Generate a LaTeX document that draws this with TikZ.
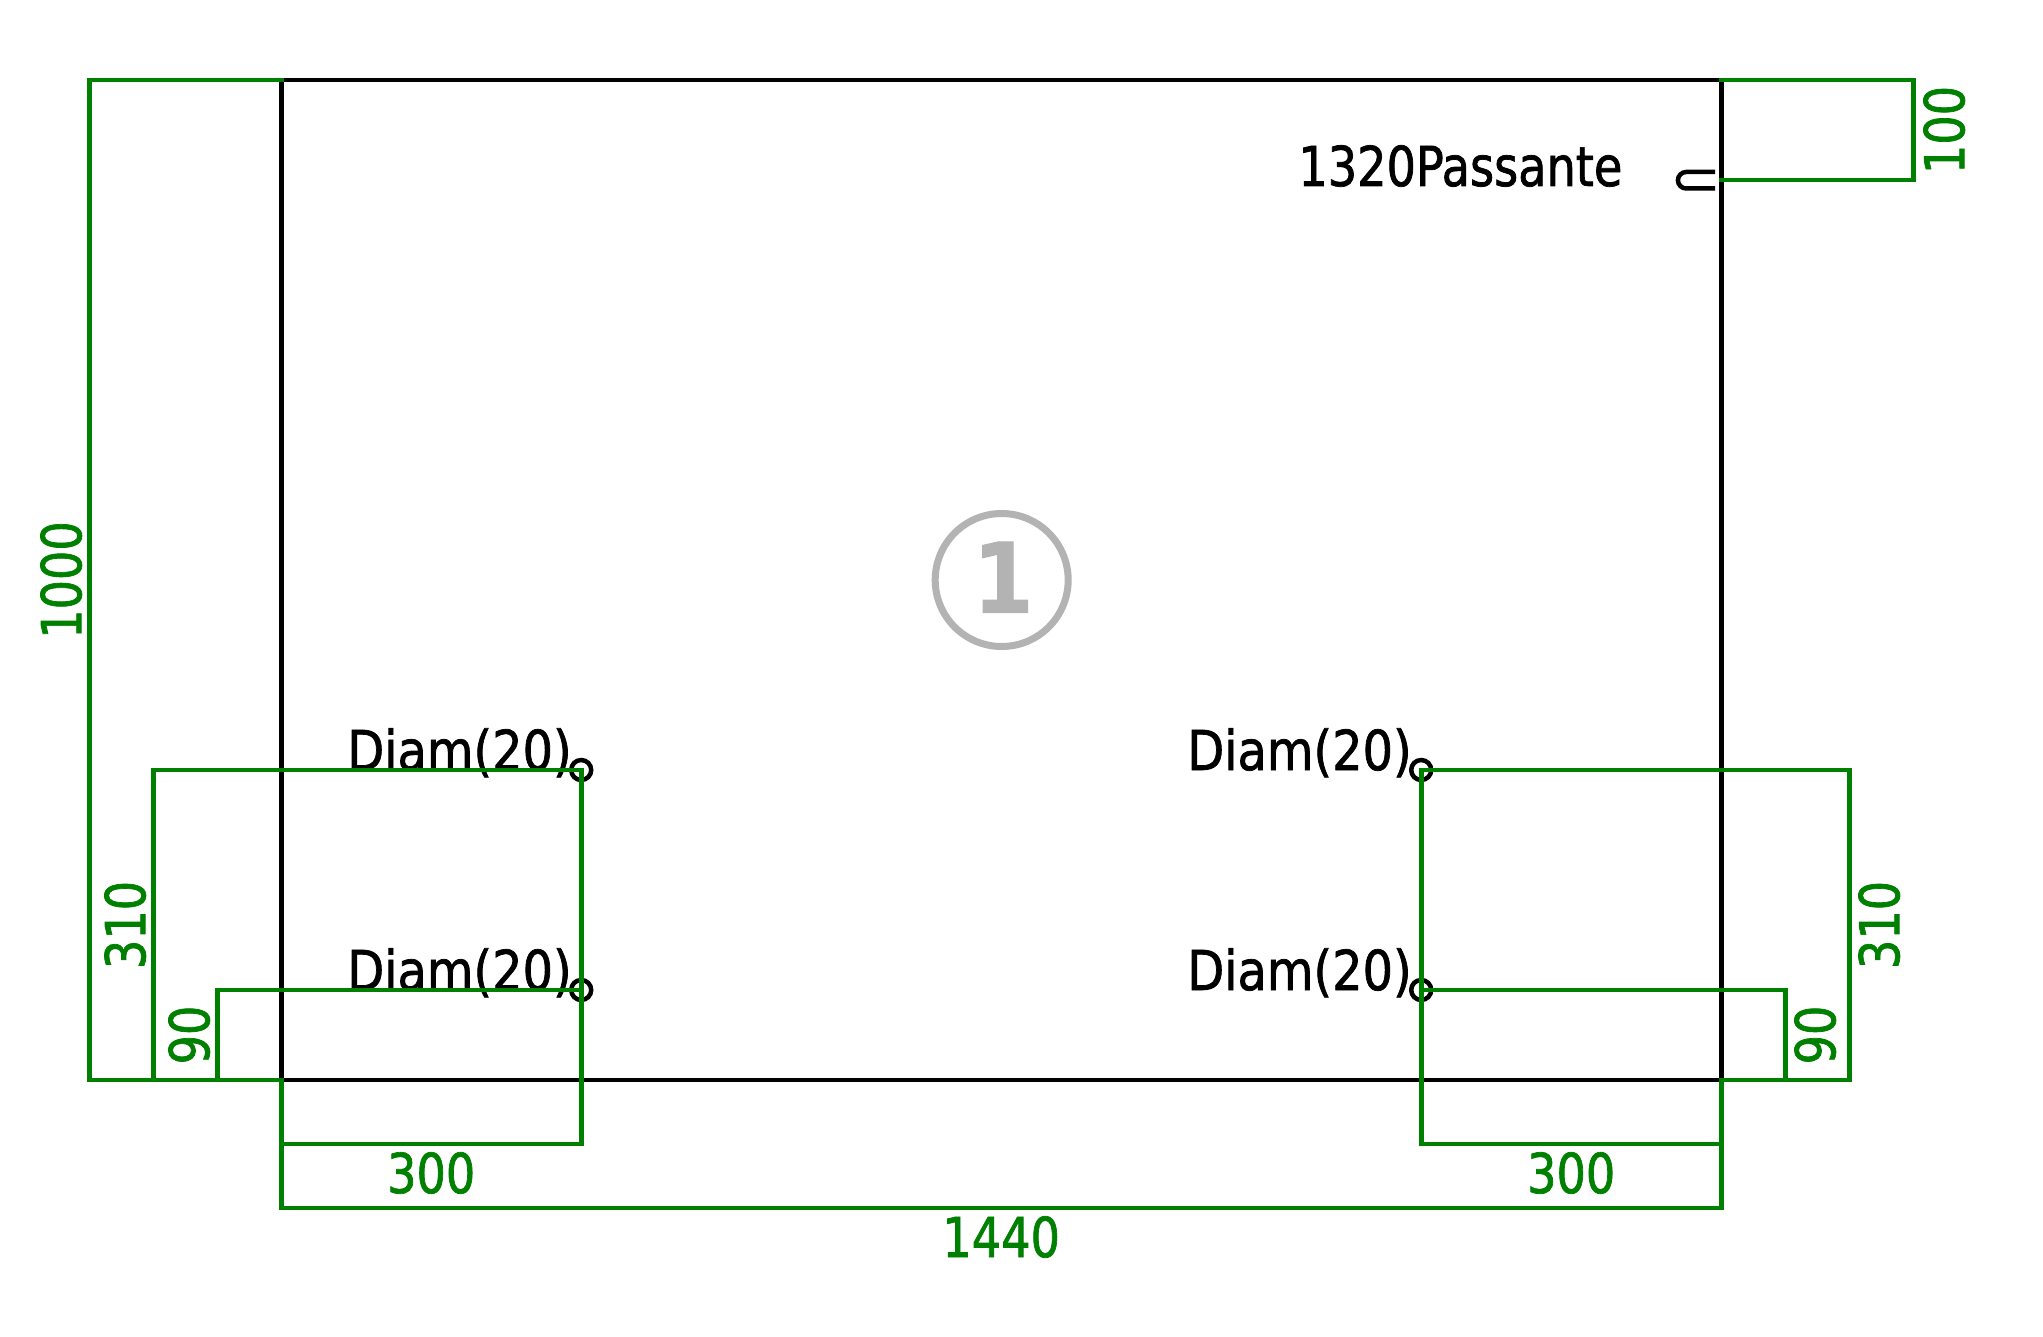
\documentclass[tikz,border=0pt]{standalone}
\usepackage{fontspec}
\newfontfamily\dimfont[FakeStretch=0.84,FakeBold=1.3]{DejaVu Sans}
\newfontfamily\diamfont[FakeStretch=0.87,FakeBold=1.3]{DejaVu Sans}
\newfontfamily\markfont[FakeStretch=0.9,FakeBold=1]{DejaVu Sans Bold}
\definecolor{dimgreen}{HTML}{008000}
\definecolor{markgray}{HTML}{B3B3B3}
\tikzset{
  panel/.style={draw=black,line width=4.6pt,line cap=rect},
  hole/.style={draw=black,line width=4.5pt,circle,minimum size=20pt,inner sep=0pt},
  dimline/.style={draw=dimgreen,line width=4.6pt,line cap=rect},
  dimtext/.style={text=dimgreen,font=\dimfont\fontsize{55}{55}\selectfont,anchor=base,inner sep=0pt},
  labeltext/.style={text=black,font=\dimfont\fontsize{55}{55}\selectfont,anchor=base west,inner sep=0pt},
  diamtext/.style={text=black,font=\diamfont\fontsize{55}{55}\selectfont,anchor=base west,inner sep=0pt},
}
\begin{document}
\begin{tikzpicture}[x=1pt,y=-1pt]
\useasboundingbox (0,0) rectangle (2043,1337);
\fill[white] (0,0) rectangle (2043,1337);
\begin{scope}[xshift=-0.8pt]
% corners
\coordinate (tl) at (282,80);
\coordinate (tr) at (1722,80);
\coordinate (bl) at (282,1080);
\coordinate (br) at (1722,1080);
\draw[panel] (tl) -- (tr) -- (br) -- (bl) -- cycle;
% holes
\node[hole] (h1) at (582,770) {};
\node[hole] (h2) at (582,990) {};
\node[hole] (h3) at (1422,770) {};
\node[hole] (h4) at (1422,990) {};
% notch
\draw[black,line width=4.5pt] (1716,172) -- (1687,172)
  .. controls (1682.5,172) and (1678.7,175.7) .. (1678.7,180.25)
  .. controls (1678.7,184.8) and (1682.5,188.5) .. (1687,188.5) -- (1716,188.5);
% mark
\node[draw=markgray,line width=7pt,circle,minimum size=133pt,inner sep=0pt] (mark) at (1002.5,580) {};
\node[text=markgray,font=\markfont\fontsize{97}{97}\selectfont,anchor=base,inner sep=0pt] (markn) at (1004,612.7) {1};
% labels
\node[labeltext] (l0) at (1299,186) {1320Passante};
\node[diamtext] (l1) at (348,770) {Diam(20)};
\node[diamtext] (l2) at (348,990) {Diam(20)};
\node[diamtext] (l3) at (1188,770) {Diam(20)};
\node[diamtext] (l4) at (1188,990) {Diam(20)};
% dimension lines
\coordinate (n100a) at (1914,80);
\coordinate (n100b) at (1914,180);
\coordinate (n100c) at (1722,180);
\draw[dimline] (tr) -- (n100a) -- (n100b) -- (n100c);
\coordinate (a1) at (90,80);
\coordinate (a2) at (90,1080);
\draw[dimline] (tl) -- (a1) -- (a2) -- (bl);
\coordinate (b1) at (154,770);
\coordinate (b2) at (154,1080);
\draw[dimline] (h1.center) -- (b1) -- (b2) -- (bl);
\coordinate (c1) at (218,990);
\coordinate (c2) at (218,1080);
\draw[dimline] (h2.center) -- (c1) -- (c2) -- (bl);
\coordinate (d1) at (582,1144);
\coordinate (d2) at (282,1144);
\draw[dimline] (h1.center) -- (d1) -- (d2) -- (bl);
\coordinate (e1) at (1422,1144);
\coordinate (e2) at (1722,1144);
\draw[dimline] (h3.center) -- (e1) -- (e2) -- (br);
\coordinate (f1) at (282,1208);
\coordinate (f2) at (1722,1208);
\draw[dimline] (bl) -- (f1) -- (f2) -- (br);
\coordinate (g1) at (1850,770);
\coordinate (g2) at (1850,1080);
\draw[dimline] (h3.center) -- (g1) -- (g2) -- (br);
\coordinate (k1) at (1786,990);
\coordinate (k2) at (1786,1080);
\draw[dimline] (h4.center) -- (k1) -- (k2) -- (br);
% dimension texts
\node[dimtext,rotate=90] (t1000) at (82,580) {1000};
\node[dimtext,rotate=90] (t310a) at (146,925) {310};
\node[dimtext,rotate=90] (t90a) at (210,1035) {90};
\node[dimtext,rotate=90] (t100) at (1965,130) {100};
\node[dimtext,rotate=90] (t310b) at (1900,925) {310};
\node[dimtext,rotate=90] (t90b) at (1836,1035) {90};
\node[dimtext] (t300a) at (432,1193) {300};
\node[dimtext] (t300b) at (1572,1193) {300};
\node[dimtext] (t1440) at (1002,1257) {1440};
\end{scope}
\end{tikzpicture}
\end{document}
